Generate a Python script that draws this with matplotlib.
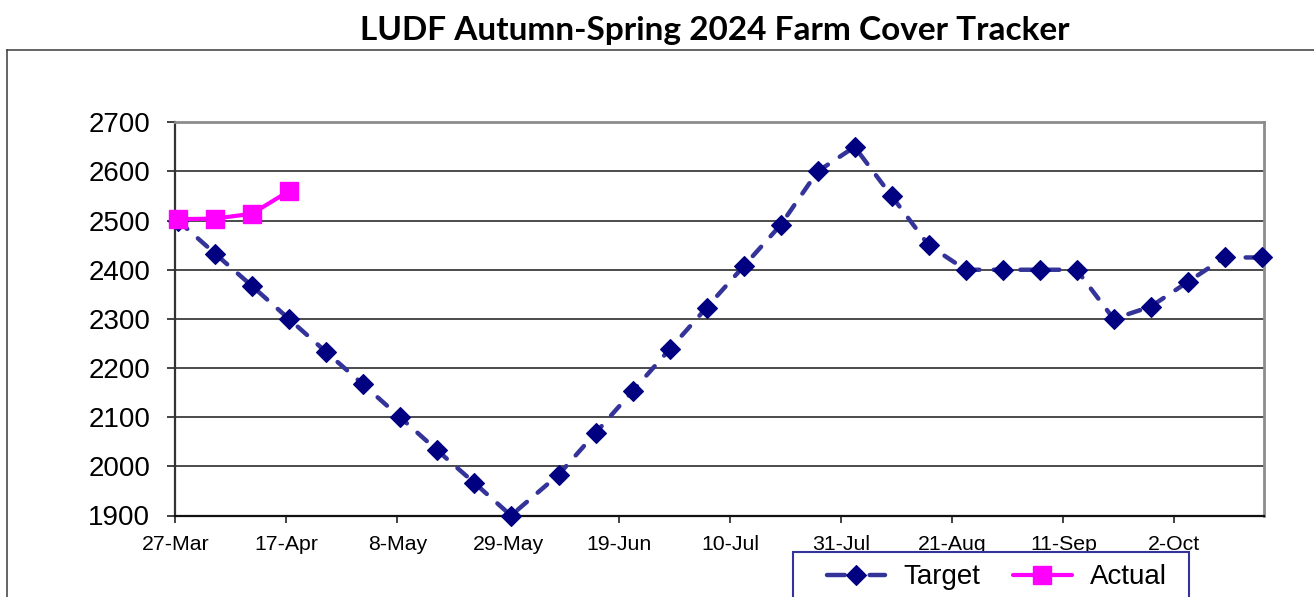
import matplotlib
matplotlib.use("Agg")
import matplotlib.pyplot as plt
import matplotlib.dates as mdates
from matplotlib.lines import Line2D
from matplotlib.patches import Rectangle
import pandas as pd

# Weekly farm cover targets (kg DM/ha) and measured actuals
target_dates = [
    "2024-03-27", "2024-04-03", "2024-04-10", "2024-04-17", "2024-04-24",
    "2024-05-01", "2024-05-08", "2024-05-15", "2024-05-22", "2024-05-29",
    "2024-06-07", "2024-06-14", "2024-06-21", "2024-06-28", "2024-07-05",
    "2024-07-12", "2024-07-19", "2024-07-26", "2024-08-02", "2024-08-09",
    "2024-08-16", "2024-08-23", "2024-08-30", "2024-09-06", "2024-09-13",
    "2024-09-20", "2024-09-27", "2024-10-04", "2024-10-11", "2024-10-18",
]
target_values = [
    2500, 2433, 2367, 2300, 2233, 2167, 2100, 2033, 1967, 1900,
    1983, 2068, 2153, 2238, 2323, 2407, 2491, 2600, 2650, 2550,
    2450, 2400, 2400, 2400, 2400, 2300, 2325, 2375, 2425, 2425,
]

actual_dates = ["2024-03-27", "2024-04-03", "2024-04-10", "2024-04-17"]
actual_values = [2503, 2504, 2514, 2560]

tick_dates = [
    "2024-03-27", "2024-04-17", "2024-05-08", "2024-05-29", "2024-06-19",
    "2024-07-10", "2024-07-31", "2024-08-21", "2024-09-11", "2024-10-02",
]
tick_labels = [
    "27-Mar", "17-Apr", "8-May", "29-May", "19-Jun",
    "10-Jul", "31-Jul", "21-Aug", "11-Sep", "2-Oct",
]
y_ticks = [1900, 2000, 2100, 2200, 2300, 2400, 2500, 2600, 2700]

title = "LUDF Autumn-Spring 2024 Farm Cover Tracker"

plt.rcParams["font.family"] = ["Liberation Sans", "DejaVu Sans"]

W, H, DPI = 1314, 597, 100
fig = plt.figure(figsize=(W / DPI, H / DPI), dpi=DPI)
fig.patch.set_facecolor("white")

ax = fig.add_axes([175.3 / W, 1 - 515.5 / H, (1264.3 - 175.3) / W, (515.5 - 122.3) / H])

TARGET_LINE = "#333399"
TARGET_MARK = "#000080"
ACTUAL = "#FF00FF"

# each date occupies a one-day slot; points sit in the middle of their slot
half_day = 0.5
tx = mdates.date2num(pd.to_datetime(target_dates)) + half_day
axx = mdates.date2num(pd.to_datetime(actual_dates)) + half_day

ax.plot(tx, target_values, color=TARGET_LINE, lw=3.2, linestyle=(0, (2.8, 3.2)),
        dash_capstyle="round", zorder=3, clip_on=False)
ax.plot(tx, target_values, linestyle="none", marker="D", ms=10,
        mfc=TARGET_MARK, mec=TARGET_MARK, mew=0.8, zorder=4, clip_on=False)

ax.plot(axx, actual_values, color=ACTUAL, lw=3.0, marker="s", ms=13.2,
        mfc=ACTUAL, mec=ACTUAL, mew=1.0, solid_joinstyle="round",
        solid_capstyle="round", zorder=5, clip_on=False)

x0 = mdates.date2num(pd.Timestamp("2024-03-27"))
ax.set_xlim(x0, x0 + 206)
ax.set_ylim(1900, 2700)

ax.set_xticks(mdates.date2num(pd.to_datetime(tick_dates)))
ax.set_xticklabels(tick_labels, fontsize=15.3)
ax.set_yticks(y_ticks)
ax.set_yticklabels([str(v) for v in y_ticks], fontsize=20)

ax.tick_params(axis="y", length=6, width=1.2, color="#222222", pad=12)
ax.tick_params(axis="x", length=5, width=1.2, color="#222222", pad=9)

ax.grid(axis="y", color="#1a1a1a", lw=1.1, zorder=1)
ax.set_axisbelow(True)

for side in ("top", "right"):
    ax.spines[side].set_color("#8c8c8c")
    ax.spines[side].set_linewidth(2.0)
ax.spines["left"].set_color("#333333")
ax.spines["left"].set_linewidth(1.6)
ax.spines["bottom"].set_color("#111111")
ax.spines["bottom"].set_linewidth(1.6)

# chart frame
fig.add_artist(Line2D([7 / W, 7 / W], [1 - 50 / H, -0.05], transform=fig.transFigure,
                      color="#3a3a3a", lw=1.1))
fig.add_artist(Line2D([7 / W, 1.05], [1 - 50 / H, 1 - 50 / H], transform=fig.transFigure,
                      color="#3a3a3a", lw=1.1))

fig.text(715 / W, 1 - 40 / H, title, ha="center", va="baseline",
         fontsize=24, fontweight="bold", family=["Lato", "DejaVu Sans"])

# legend box, running off the bottom edge
fig.add_artist(Rectangle((793.3 / W, -0.05), (1189.3 - 793.3) / W, (1 - 552.3 / H) + 0.05,
                         transform=fig.transFigure, fill=True, facecolor="white",
                         edgecolor=TARGET_LINE, lw=1.5, zorder=2))

handles = [
    Line2D([], [], color=TARGET_LINE, lw=3.2, linestyle=(0, (4.0, 5.6)), dash_capstyle="round",
           marker="D", ms=10, mfc=TARGET_MARK, mec=TARGET_MARK, mew=0.8),
    Line2D([], [], color=ACTUAL, lw=3.0, marker="s", ms=13.2, mfc=ACTUAL,
           mec=ACTUAL, solid_capstyle="round"),
]
leg = fig.legend(handles, ["Target", "Actual"], ncol=2, fontsize=20,
                 loc="center left", bbox_to_anchor=(826.7 / W, 1 - 577.5 / H),
                 frameon=False, borderpad=0, borderaxespad=0,
                 handlelength=2.1, handletextpad=0.65, columnspacing=1.2)
leg.set_zorder(3)

fig.savefig("out.png", dpi=DPI, facecolor="white")
